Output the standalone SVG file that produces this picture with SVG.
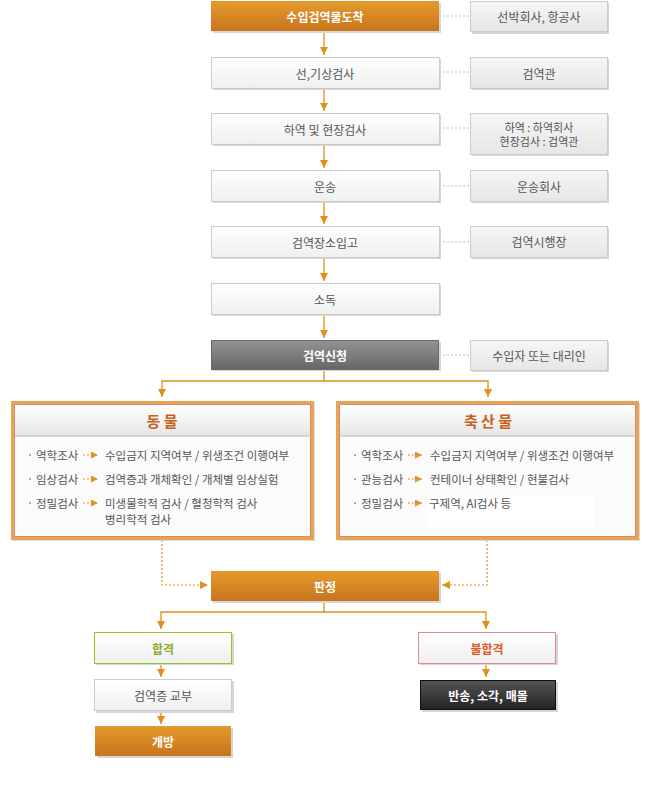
<svg xmlns="http://www.w3.org/2000/svg" width="650" height="786" viewBox="0 0 650 786">
<defs>
<linearGradient id="gOr" x1="0" y1="0" x2="0" y2="1"><stop offset="0" stop-color="#e59a2c"/><stop offset="1" stop-color="#c8741e"/></linearGradient>
<linearGradient id="gGy" x1="0" y1="0" x2="0" y2="1"><stop offset="0" stop-color="#ffffff"/><stop offset="1" stop-color="#efefef"/></linearGradient>
<linearGradient id="gSide" x1="0" y1="0" x2="0" y2="1"><stop offset="0" stop-color="#f6f6f6"/><stop offset="1" stop-color="#e6e6e6"/></linearGradient>
<linearGradient id="gDk" x1="0" y1="0" x2="0" y2="1"><stop offset="0" stop-color="#939393"/><stop offset="1" stop-color="#666666"/></linearGradient>
<linearGradient id="gBlk" x1="0" y1="0" x2="0" y2="1"><stop offset="0" stop-color="#555555"/><stop offset="1" stop-color="#222222"/></linearGradient>
<linearGradient id="gHead" x1="0" y1="0" x2="0" y2="1"><stop offset="0" stop-color="#ffffff"/><stop offset="1" stop-color="#e6e6e6"/></linearGradient>
<marker id="ah" viewBox="0 0 8 8" refX="8" refY="4" markerWidth="8" markerHeight="8" markerUnits="userSpaceOnUse" orient="auto"><path d="M0,0 L8,4 L0,8 z" fill="#e0901c"/></marker>
<marker id="ahs" viewBox="0 0 8 8" refX="8" refY="4" markerWidth="7" markerHeight="7" markerUnits="userSpaceOnUse" orient="auto"><path d="M0,0 L8,4 L0,8 z" fill="#e0901c"/></marker>
</defs>
<style>
text{font-family:"Noto Sans CJK KR","Noto Sans",sans-serif;font-size:12px;text-anchor:middle;dominant-baseline:central}
.sh{fill:#d6d6d6}
.gy{fill:url(#gGy);stroke:#cccccc;stroke-width:1}
.sd{fill:url(#gSide);stroke:#cccccc;stroke-width:1}
.or{fill:url(#gOr)}
.tw{fill:#ffffff;font-weight:bold}
.tg{fill:#555555}
.con{stroke:#e0901c;stroke-width:1.3;fill:none}
.dot{stroke:#bbbbbb;stroke-width:1;stroke-dasharray:2,2;fill:none}
.odot{stroke:#e0901c;stroke-width:1.2;stroke-dasharray:2,2;fill:none}
.it{fill:#555555;text-anchor:start;font-size:11.5px}
.bul{fill:#aaaaaa}
</style>

<g id="connectors">
<path class="con" d="M324,32 V55" marker-end="url(#ah)"/>
<path class="con" d="M324,89 V111" marker-end="url(#ah)"/>
<path class="con" d="M324,145 V168" marker-end="url(#ah)"/>
<path class="con" d="M324,202 V224" marker-end="url(#ah)"/>
<path class="con" d="M324,258 V281" marker-end="url(#ah)"/>
<path class="con" d="M324,315 V338" marker-end="url(#ah)"/>
<path class="con" d="M324,370 V381 H162 V397" marker-end="url(#ah)"/>
<path class="con" d="M324,381 H488 V397" marker-end="url(#ah)"/>
<path class="odot" d="M162,540 V585 H208" marker-end="url(#ah)"/>
<path class="odot" d="M487,540 V585 H442" marker-end="url(#ah)"/>
<path class="con" d="M324,602 V612 H161 V629" marker-end="url(#ah)"/>
<path class="con" d="M324,612 H486 V629" marker-end="url(#ah)"/>
<path class="con" d="M161,664 V677" marker-end="url(#ah)"/>
<path class="con" d="M161,712 V724" marker-end="url(#ah)"/>
<path class="con" d="M486,664 V677" marker-end="url(#ah)"/>
<path class="dot" d="M443,16 H469 M443,72 H469 M443,128 H469 M443,186 H469 M443,242 H469 M443,355 H469"/>
</g>

<g id="n1"><rect class="sh" x="213" y="3" width="228" height="30"/><rect class="or" x="211" y="1" width="228" height="30"/><text class="tw" x="325" y="16">수입검역물도착</text></g>
<g id="n2"><rect class="sh" x="213" y="59" width="228" height="31"/><rect class="gy" x="211.5" y="57.5" width="228" height="31"/><text class="tg" x="325" y="73">선,기상검사</text></g>
<g id="n3"><rect class="sh" x="213" y="115" width="228" height="31"/><rect class="gy" x="211.5" y="113.5" width="228" height="31"/><text class="tg" x="325" y="129">하역 및 현장검사</text></g>
<g id="n4"><rect class="sh" x="213" y="172" width="228" height="31"/><rect class="gy" x="211.5" y="170.5" width="228" height="31"/><text class="tg" x="325" y="186">운송</text></g>
<g id="n5"><rect class="sh" x="213" y="228" width="228" height="31"/><rect class="gy" x="211.5" y="226.5" width="228" height="31"/><text class="tg" x="325" y="242">검역장소입고</text></g>
<g id="n6"><rect class="sh" x="213" y="285" width="228" height="31"/><rect class="gy" x="211.5" y="283.5" width="228" height="31"/><text class="tg" x="325" y="299">소독</text></g>
<g id="n7"><rect class="sh" x="213" y="342" width="228" height="29"/><rect x="211.5" y="340.5" width="227" height="29" fill="url(#gDk)" stroke="#6a6a6a"/><text class="tw" x="325" y="355">검역신청</text></g>

<g id="s1"><rect class="sh" x="472" y="3" width="137" height="31"/><rect class="sd" x="470.5" y="1.5" width="137" height="30"/><text class="tg" x="539" y="16">선박회사, 항공사</text></g>
<g id="s2"><rect class="sh" x="472" y="59" width="137" height="31"/><rect class="sd" x="470.5" y="57.5" width="137" height="31"/><text class="tg" x="539" y="73">검역관</text></g>
<g id="s3"><rect class="sh" x="472" y="115" width="137" height="41"/><rect class="sd" x="470.5" y="113.5" width="137" height="41"/><text class="tg" x="539" y="126.5" style="font-size:11px">하역 : 하역회사</text><text class="tg" x="539" y="141" style="font-size:11px">현장검사 : 검역관</text></g>
<g id="s4"><rect class="sh" x="472" y="172" width="137" height="31"/><rect class="sd" x="470.5" y="170.5" width="137" height="31"/><text class="tg" x="539" y="186">운송회사</text></g>
<g id="s5"><rect class="sh" x="472" y="228" width="137" height="31"/><rect class="sd" x="470.5" y="226.5" width="137" height="31"/><text class="tg" x="539" y="241">검역시행장</text></g>
<g id="s6"><rect class="sh" x="472" y="342" width="137" height="30"/><rect class="sd" x="470.5" y="340.5" width="137" height="30"/><text class="tg" x="539" y="355">수입자 또는 대리인</text></g>

<g id="animal">
<rect x="13" y="403" width="302" height="138" fill="#dddddd"/>
<rect x="12.5" y="402.5" width="300" height="136" fill="#fbfbfb" stroke="#e8a450" stroke-width="3"/>
<rect x="14.5" y="404.5" width="296" height="132" fill="none" stroke="#d88a78" stroke-width="1"/>
<rect x="15" y="405" width="295" height="31" fill="url(#gHead)"/>
<line x1="15" y1="436" x2="310" y2="436" stroke="#bbbbbb"/>
<text x="162" y="420" style="font-size:15px;font-weight:bold;fill:#c8601c">동 물</text>
<rect class="bul" x="29" y="454" width="2" height="2"/><text class="it" x="36" y="455">역학조사</text>
<path class="odot" d="M83,455 H98" marker-end="url(#ahs)"/><text class="it" x="105" y="455">수입금지 지역여부 / 위생조건 이행여부</text>
<rect class="bul" x="29" y="478" width="2" height="2"/><text class="it" x="36" y="479">임상검사</text>
<path class="odot" d="M83,479 H98" marker-end="url(#ahs)"/><text class="it" x="105" y="479">검역증과 개체확인 / 개체별 임상실험</text>
<rect class="bul" x="29" y="502" width="2" height="2"/><text class="it" x="36" y="503">정밀검사</text>
<path class="odot" d="M83,503 H98" marker-end="url(#ahs)"/><text class="it" x="105" y="503">미생물학적 검사 / 혈청학적 검사</text>
<text class="it" x="105" y="519">병리학적 검사</text>
</g>

<g id="livestock">
<rect x="338" y="403" width="302" height="138" fill="#dddddd"/>
<rect x="337.5" y="402.5" width="300" height="136" fill="#fbfbfb" stroke="#e8a450" stroke-width="3"/>
<rect x="339.5" y="404.5" width="296" height="132" fill="none" stroke="#d88a78" stroke-width="1"/>
<rect x="340" y="405" width="295" height="31" fill="url(#gHead)"/>
<line x1="340" y1="436" x2="635" y2="436" stroke="#bbbbbb"/>
<text x="488" y="420" style="font-size:15px;font-weight:bold;fill:#c8601c">축 산 물</text>
<rect class="bul" x="354" y="454" width="2" height="2"/><text class="it" x="361" y="455">역학조사</text>
<path class="odot" d="M408,455 H422" marker-end="url(#ahs)"/><text class="it" x="430" y="455">수입금지 지역여부 / 위생조건 이행여부</text>
<rect class="bul" x="354" y="478" width="2" height="2"/><text class="it" x="361" y="479">관능검사</text>
<path class="odot" d="M408,479 H422" marker-end="url(#ahs)"/><text class="it" x="430" y="479">컨테이너 상태확인 / 현불검사</text>
<rect class="bul" x="354" y="502" width="2" height="2"/><text class="it" x="361" y="503">정밀검사</text>
<path class="odot" d="M408,503 H422" marker-end="url(#ahs)"/>
<rect x="428" y="495" width="166" height="32" fill="#ffffff"/>
<text class="it" x="429" y="503">구제역, AI검사 등</text>
</g>

<g id="judge"><rect class="sh" x="213" y="573" width="228" height="30"/><rect class="or" x="211" y="571" width="228" height="30"/><text class="tw" x="325" y="586">판정</text></g>
<g id="pass"><rect class="sh" x="96" y="634" width="138" height="31"/><rect x="94.5" y="632.5" width="137" height="31" fill="url(#gGy)" stroke="#9dc21e"/><text x="163" y="648" style="fill:#8aac2c;font-weight:bold">합격</text></g>
<g id="fail"><rect class="sh" x="420" y="634" width="138" height="31"/><rect x="418.5" y="632.5" width="137" height="31" fill="url(#gGy)" stroke="#e48a8a"/><text x="487" y="648" style="fill:#dd5a2a;font-weight:bold">불합격</text></g>
<g id="cert"><rect class="sh" x="96" y="681" width="138" height="32"/><rect class="gy" x="94.5" y="679.5" width="137" height="31"/><text class="tg" x="163" y="695">검역증 교부</text></g>
<g id="open"><rect class="sh" x="97" y="728" width="136" height="30"/><rect class="or" x="95" y="726" width="136" height="30"/><text class="tw" x="163" y="741">개방</text></g>
<g id="ret"><rect class="sh" x="422" y="682" width="136" height="30"/><rect x="420.5" y="680.5" width="135" height="29" fill="url(#gBlk)" stroke="#111111"/><text class="tw" x="488" y="695">반송, 소각, 매몰</text></g>
</svg>
